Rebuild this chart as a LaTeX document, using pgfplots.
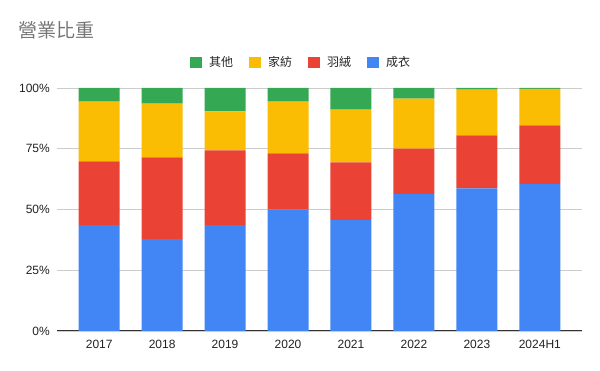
\documentclass[border=0pt]{standalone}
\usepackage{pgfplots}
\pgfplotsset{compat=1.18}
\usepackage{fontspec}
\setmainfont{Liberation Sans}
\newfontfamily\cjk{Noto Sans CJK TC}
\definecolor{gblue}{HTML}{4285F4}
\definecolor{gred}{HTML}{EA4335}
\definecolor{gyellow}{HTML}{FBBC04}
\definecolor{ggreen}{HTML}{34A853}
\definecolor{titlegray}{HTML}{757575}
\definecolor{gridgray}{HTML}{CCCCCC}
\definecolor{axisgray}{HTML}{333333}
\definecolor{labelgray}{HTML}{222222}
\pgfplotstableread{
x blue red yellow green
0 43.6 26.2 24.6 5.6
1 37.8 33.6 22.2 6.4
2 43.6 30.7 16.1 9.6
3 49.9 23.2 21.3 5.6
4 45.6 23.8 21.7 8.9
5 56.3 18.8 20.5 4.4
6 58.7 21.8 18.8 0.7
7 60.4 24.2 15.0 0.4
}\datatable
\begin{document}
\begin{tikzpicture}
\path[use as bounding box] (0,0) rectangle (600pt,371pt);
\node[anchor=west, text=titlegray, font=\cjk\fontsize{19}{22}\selectfont, inner sep=0pt] at (18pt,341pt) {營業比重};
\begin{axis}[
  at={(57pt,40pt)}, anchor=south west,
  scale only axis, width=525pt, height=243pt,
  ybar stacked, bar width=41pt,
  xmin=-0.67, xmax=7.67, ymin=0, ymax=100,
  xtick={0,...,7},
  xticklabels={2017,2018,2019,2020,2021,2022,2023,2024H1},
  ytick={0,25,50,75,100},
  yticklabel={\pgfmathprintnumber{\tick}\%},
  /pgf/number format/assume math mode=true,
  ymajorgrids,
  major grid style={draw=gridgray, line width=0.8pt},
  axis x line*=bottom, axis y line*=left,
  y axis line style={draw=none},
  x axis line style={draw=axisgray, line width=1pt, -},
  major tick length=0pt,
  tick style={draw=none},
  ticklabel style={font=\fontsize{12}{14}\selectfont, text=labelgray},
  yticklabel style={inner sep=0pt, anchor=east, xshift=-7pt},
  xticklabel style={inner sep=0pt, anchor=north, yshift=-9pt},
  reverse legend,
  legend columns=4,
  legend style={draw=none, fill=none, at={(0.4629,1.1058)}, anchor=center,
    font=\cjk\fontsize{12}{14}\selectfont, text=labelgray,
    nodes={inner sep=0pt},
    /tikz/every odd column/.append style={column sep=7pt},
    /tikz/every even column/.append style={column sep=16pt}},
  legend image code/.code={\fill[#1] (0pt,-5.5pt) rectangle (12pt,5.5pt);},
]
\addplot[fill=gblue, draw=none] table[x=x, y=blue] {\datatable};
\addlegendentry{成衣}
\addplot[fill=gred, draw=none] table[x=x, y=red] {\datatable};
\addlegendentry{羽絨}
\addplot[fill=gyellow, draw=none] table[x=x, y=yellow] {\datatable};
\addlegendentry{家紡}
\addplot[fill=ggreen, draw=none] table[x=x, y=green] {\datatable};
\addlegendentry{其他}
\end{axis}
\end{tikzpicture}
\end{document}
